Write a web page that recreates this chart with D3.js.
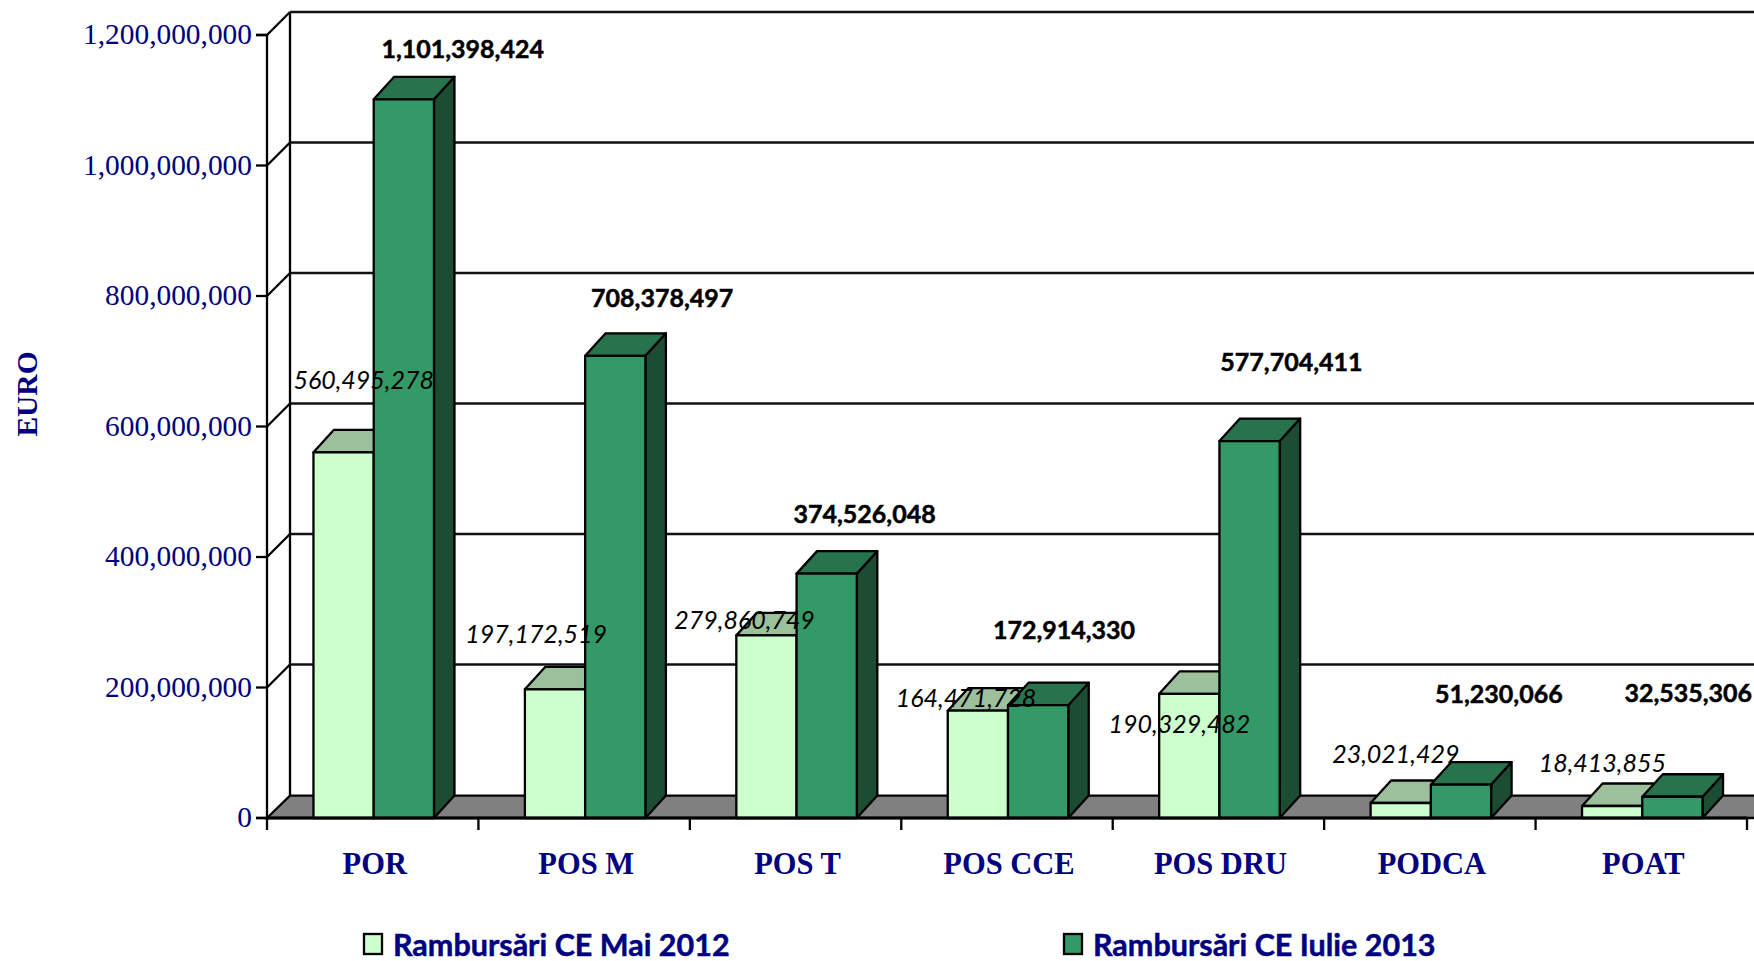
<!DOCTYPE html>
<html lang="ro">
<head>
<meta charset="utf-8">
<title>Rambursări CE</title>
<script src="https://cdn.jsdelivr.net/npm/d3@7"></script>
<style>
  html, body { margin: 0; padding: 0; background: #fff; overflow: hidden; }
  svg { display: block; }
  .serif { font-family: "Liberation Serif", serif; fill: #000080; }
  .lato { font-family: Lato, sans-serif; }
</style>
</head>
<body>
<script>
'use strict';

const categories = ["POR", "POS M", "POS T", "POS CCE", "POS DRU", "PODCA", "POAT"];
const seriesNames = ["Rambursări CE Mai 2012", "Rambursări CE Iulie 2013"];
const valuesMai2012 = [560495278, 197172519, 279860749, 164471728, 190329482, 23021429, 18413855];
const valuesIulie2013 = [1101398424, 708378497, 374526048, 172914330, 577704411, 51230066, 32535306];
const yTicks = [0, 200000000, 400000000, 600000000, 800000000, 1000000000, 1200000000];

// hand placed labels in the original: offset from band centre / bar top
const labelNudgeMai = [[-9, -63], [-48, -46], [-51, -6], [-41, -3.5], [-39, 39], [-34, -40], [-39, -34]];
const labelNudgeIulie = [[90, -41], [78, -49], [69, -51], [57, -66], [73, -70], [69, -81.5], [47, -95]];

const chartW = 1754, chartH = 961;
const plotLeft = 267, plotRight = 1747, plotBottom = 818, plotTop = 35;
const wallX = 23, wallY = 23;   // back wall shift
const floorY = 22.3;
const depthX = 20.5, depthY = 22.5; // bar depth
const barsWidth = 120.5;
const lineW = 2.3;

const svg = d3.select("body").append("svg")
    .attr("width", chartW)
    .attr("height", chartH);

const y = d3.scaleLinear().domain([0, 1200000000]).range([plotBottom, plotTop]);
const x0 = d3.scaleBand().domain(categories).range([plotLeft, plotRight]);
const x1 = d3.scaleBand().domain(seriesNames).range([0, barsWidth]);
const xEdge = d3.scaleLinear().domain([0, categories.length]).range([plotLeft, plotRight]);

const fmt = d3.format(",");
const pts = arr => arr.map(p => p.join(",")).join(" ");

// back wall and grid
svg.selectAll("line.grid")
    .data(yTicks.slice(1))
    .enter().append("line")
    .attr("class", "grid")
    .attr("x1", plotLeft + wallX)
    .attr("x2", chartW)
    .attr("y1", d => y(d) - wallY)
    .attr("y2", d => y(d) - wallY)
    .attr("stroke", "#111")
    .attr("stroke-width", lineW);

svg.selectAll("line.diag")
    .data(yTicks.slice(1))
    .enter().append("line")
    .attr("class", "diag")
    .attr("x1", plotLeft)
    .attr("x2", plotLeft + wallX)
    .attr("y1", d => y(d))
    .attr("y2", d => y(d) - wallY)
    .attr("stroke", "#000")
    .attr("stroke-width", lineW);

svg.append("line")
    .attr("x1", plotLeft + wallX).attr("x2", plotLeft + wallX)
    .attr("y1", y(1200000000) - wallY).attr("y2", plotBottom - floorY)
    .attr("stroke", "#000")
    .attr("stroke-width", lineW);

// floor
svg.append("polygon")
    .attr("points", pts([[plotLeft, plotBottom], [plotLeft + wallX, plotBottom - floorY], [chartW + 30, plotBottom - floorY], [chartW, plotBottom], [plotLeft, plotBottom]]))
    .attr("fill", "#808080")
    .attr("stroke", "#000")
    .attr("stroke-width", lineW);

// bars
const barStyles = [
    { front: "#CCFFCC", top: "#9CC09C", side: "#7FA67F" },
    { front: "#339966", top: "#26734D", side: "#1C4D33" }
];

function drawBar(g, cat, value, s) {
    const bx = x0(cat) + (x0.bandwidth() - barsWidth) / 2 + 1 + x1(seriesNames[s]);
    const w = x1.bandwidth();
    const by = y(value);
    const st = barStyles[s];
    g.append("polygon")
        .attr("points", pts([[bx + w, by], [bx + w + depthX, by - depthY], [bx + w + depthX, plotBottom - depthY], [bx + w, plotBottom]]))
        .attr("fill", st.side);
    g.append("polygon")
        .attr("points", pts([[bx, by], [bx + depthX, by - depthY], [bx + w + depthX, by - depthY], [bx + w, by]]))
        .attr("fill", st.top);
    g.append("rect")
        .attr("x", bx)
        .attr("y", by)
        .attr("width", w)
        .attr("height", plotBottom - by)
        .attr("fill", st.front);
}

const bars = svg.append("g")
    .attr("stroke", "#000")
    .attr("stroke-width", lineW)
    .attr("stroke-linejoin", "round");

categories.forEach((cat, i) => {
    drawBar(bars, cat, valuesMai2012[i], 0);
    drawBar(bars, cat, valuesIulie2013[i], 1);
});

// axes
const yAxis = d3.axisLeft(y)
    .tickValues(yTicks)
    .tickFormat(fmt)
    .tickSize(11)
    .tickPadding(4)
    .offset(0);

const gy = svg.append("g")
    .attr("transform", "translate(" + plotLeft + ",0)")
    .call(yAxis);
gy.select(".domain").attr("stroke", "#000").attr("stroke-width", lineW);
gy.selectAll(".tick line").attr("stroke", "#000").attr("stroke-width", lineW);
gy.selectAll("text")
    .attr("class", "serif")
    .style("font-size", "29.4px")
    .attr("dy", "0.32em");

const xTicks = d3.axisBottom(xEdge)
    .tickValues(d3.range(categories.length + 1))
    .tickFormat("")
    .tickSize(12)
    .tickSizeOuter(0)
    .offset(0);

const gx = svg.append("g")
    .attr("transform", "translate(0," + plotBottom + ")")
    .call(xTicks);
gx.select(".domain").attr("stroke", "#000").attr("stroke-width", 3);
gx.selectAll(".tick line").attr("stroke", "#000").attr("stroke-width", lineW);

const xLabels = d3.axisBottom(x0)
    .tickSize(0)
    .tickPadding(34)
    .offset(0);

const gxl = svg.append("g")
    .attr("transform", "translate(2," + plotBottom + ")")
    .call(xLabels);
gxl.select(".domain").remove();
gxl.selectAll("text")
    .attr("class", "serif")
    .style("font-size", "30.5px")
    .style("font-weight", "bold");

// axis title
svg.append("text")
    .attr("class", "serif")
    .attr("transform", "translate(37,394) rotate(-90)")
    .attr("text-anchor", "middle")
    .style("font-size", "29.5px")
    .style("font-weight", "bold")
    .text("EURO");

// value labels
function drawLabels(values, nudge, weight, style, thick) {
    svg.append("g").selectAll("text")
        .data(values)
        .enter().append("text")
        .attr("class", "lato")
        .attr("x", (d, i) => x0(categories[i]) + x0.bandwidth() / 2 + nudge[i][0])
        .attr("y", (d, i) => y(d) + nudge[i][1])
        .attr("text-anchor", "middle")
        .style("font-size", "25px")
        .style("font-weight", weight)
        .style("font-style", style)
        .attr("fill", "#000")
        .attr("stroke", "#000")
        .attr("stroke-width", thick)
        .text(fmt);
}

drawLabels(valuesMai2012, labelNudgeMai, "normal", "italic", 0);
drawLabels(valuesIulie2013, labelNudgeIulie, "bold", "normal", 0.5);

// legend
const legendX = [363, 1063];
const legend = svg.selectAll("g.legend")
    .data(seriesNames)
    .enter().append("g")
    .attr("class", "legend")
    .attr("transform", (d, i) => "translate(" + legendX[i] + ",0)");

legend.append("rect")
    .attr("x", 1)
    .attr("y", 934)
    .attr("width", 18)
    .attr("height", 20)
    .attr("fill", (d, i) => barStyles[i].front)
    .attr("stroke", "#000")
    .attr("stroke-width", lineW);

legend.append("text")
    .attr("class", "lato")
    .attr("x", 30)
    .attr("y", 956)
    .attr("fill", "#000080")
    .attr("stroke", "#000080")
    .attr("stroke-width", 0.5)
    .style("font-size", "30.5px")
    .style("font-weight", "bold")
    .text(d => d);
</script>
</body>
</html>
